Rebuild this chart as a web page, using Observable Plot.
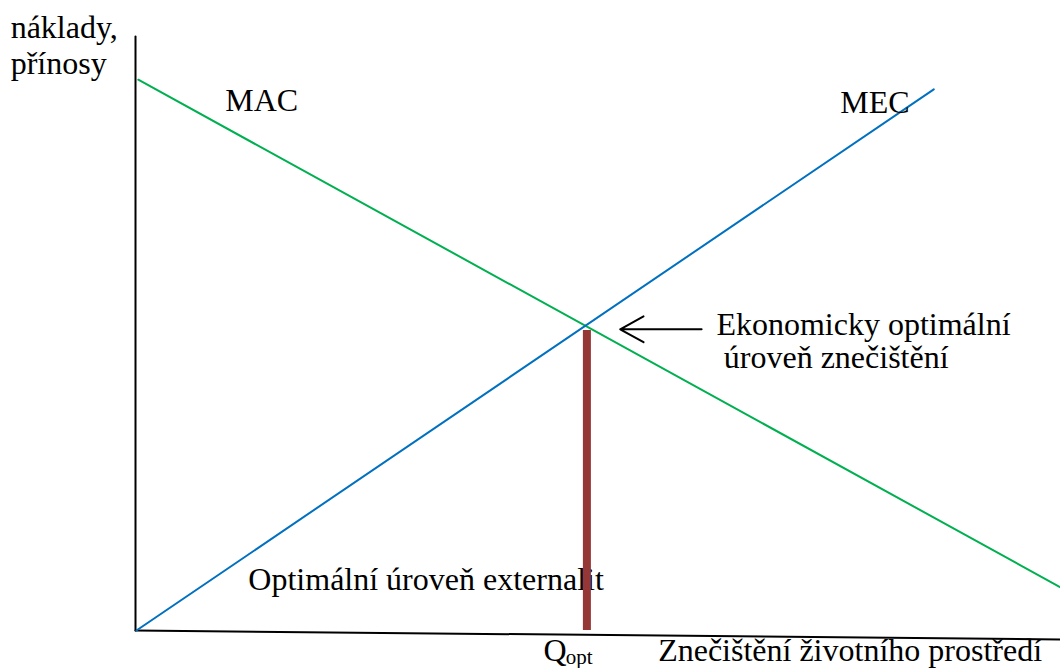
<!DOCTYPE html>
<html>
<head>
<meta charset="utf-8">
<script src="https://cdn.jsdelivr.net/npm/d3@7"></script>
<script src="https://cdn.jsdelivr.net/npm/@observablehq/plot@0.6"></script>
<style>
  html, body { margin: 0; padding: 0; background: #ffffff; }
  #chart svg { display: block; }
</style>
</head>
<body>
<div id="chart"></div>
<script>
// Quantity of pollution (x) and costs/benefits (y), abstract units 0..100
const macCurve = [ {q: 0.3, v: 91.8}, {q: 100, v: 7.2} ];     // marginal abatement cost
const mecCurve = [ {q: 0.1, v: 0},    {q: 86.3, v: 90.2} ];   // marginal external cost
const qOpt = 48.8;                                          // optimal pollution level
const qOptValue = 50;                                       // height of the bar at Q_opt
const yAxisLine = [ {q: 0, v: 0}, {q: 0, v: 99} ];
const xAxisLine = [ {q: 0, v: 0}, {q: 100, v: -1.5} ];
const arrowData = [ {q1: 61.2, q2: 52.4, v: 50.2} ];

// annotation texts with anchor points in data units
const labels = [
  {text: "náklady,", q: -13.5, v: 98.8, size: 32},
  {text: "přínosy", q: -13.5, v: 92.7, size: 32},
  {text: "MAC", q: 9.7, v: 86.6, size: 32},
  {text: "MEC", q: 76.2, v: 86.3, size: 32},
  {text: "Ekonomicky optimální", q: 62.8, v: 49.2, size: 32},
  {text: "úroveň znečištění", q: 63.6, v: 43.7, size: 32},
  {text: "Optimální úroveň externalit", q: 12.2, v: 6.7, size: 32},
  {text: "Q", q: 44.1, v: -5.15, size: 32},
  {text: "opt", q: 46.5, v: -5.6, size: 21},
  {text: "Znečištění životního prostředí", q: 56.5, v: -5.15, size: 32}
];

const font = "'Liberation Serif', 'Times New Roman', serif";

const chart = Plot.plot({
  width: 1060,
  height: 668,
  margin: 0,
  style: {background: "#ffffff", fontFamily: font},
  x: {domain: [0, 100], range: [135, 1060], axis: null},
  y: {domain: [0, 100], range: [630, 30], axis: null},
  marks: [
    Plot.line(yAxisLine, {x: "q", y: "v", stroke: "#000000", strokeWidth: 2}),
    Plot.line(xAxisLine, {x: "q", y: "v", stroke: "#000000", strokeWidth: 2}),
    Plot.line(macCurve, {x: "q", y: "v", stroke: "#00b050", strokeWidth: 2}),
    Plot.line(mecCurve, {x: "q", y: "v", stroke: "#0070c0", strokeWidth: 2}),
    Plot.arrow(arrowData, {x1: "q1", x2: "q2", y1: "v", y2: "v", stroke: "#000000", strokeWidth: 2, headLength: 20, headAngle: 58, insetStart: 0, insetEnd: 0}),
    ...labels.map(d => Plot.text([d], {
      x: "q", y: "v", text: "text", textAnchor: "start", lineAnchor: "bottom",
      fontSize: d.size, fill: "#000000", fontFamily: font
    })),
    Plot.ruleX([qOpt], {y1: 0, y2: qOptValue, stroke: "#953735", strokeWidth: 8})
  ]
});

document.getElementById("chart").appendChild(chart);
</script>
</body>
</html>
